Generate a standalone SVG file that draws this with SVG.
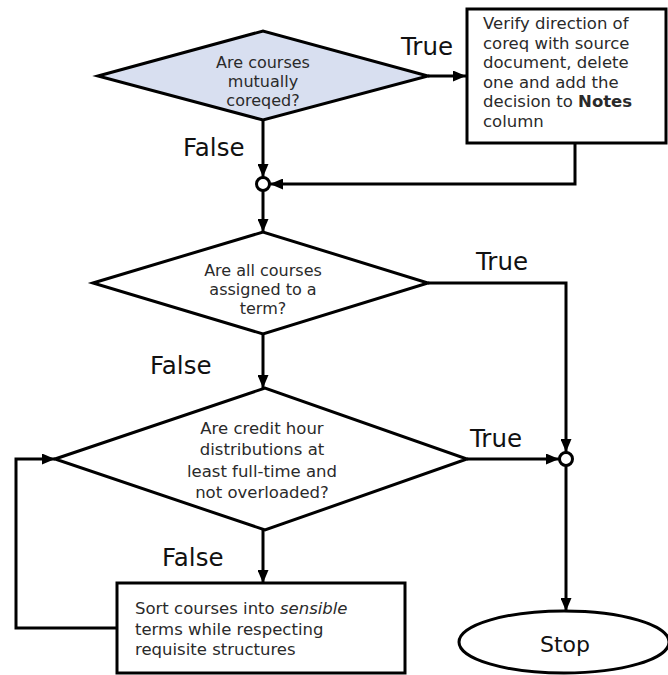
<svg xmlns="http://www.w3.org/2000/svg" width="668" height="675" viewBox="0 0 668 675">
<style>
  .shape { stroke: #000; stroke-width: 3; fill: #fff; stroke-linejoin: miter; }
  .blue { fill: #D8DFF0; }
  .conn { stroke: #000; stroke-width: 3; fill: none; }
  .txt { font-family: "DejaVu Sans", "Liberation Sans", sans-serif; font-size: 16.5px; fill: #2a2a2a; }
  .dtxt { font-size: 16px; }
  .mid { text-anchor: middle; }
  .lbl { font-family: "DejaVu Sans", "Liberation Sans", sans-serif; font-size: 24.5px; fill: #111; }
</style>
<defs>
  <marker id="arr" markerUnits="userSpaceOnUse" markerWidth="13" markerHeight="11" refX="13" refY="5.5" orient="auto">
    <path d="M0,0 L13,5.5 L0,11 z" fill="#000"/>
  </marker>
</defs>
<rect width="668" height="675" fill="#fff"/>

<g id="connectors">
  <line class="conn" x1="428" y1="76" x2="466" y2="76" marker-end="url(#arr)"/>
  <line class="conn" x1="263" y1="120" x2="263" y2="177" marker-end="url(#arr)"/>
  <polyline class="conn" points="575,143 575,184 270,184" marker-end="url(#arr)"/>
  <line class="conn" x1="263" y1="191" x2="263" y2="232" marker-end="url(#arr)"/>
  <polyline class="conn" points="428,283 566,283 566,452" marker-end="url(#arr)"/>
  <line class="conn" x1="263" y1="334" x2="263" y2="388" marker-end="url(#arr)"/>
  <line class="conn" x1="467" y1="459" x2="559" y2="459" marker-end="url(#arr)"/>
  <line class="conn" x1="263" y1="530" x2="263" y2="583" marker-end="url(#arr)"/>
  <polyline class="conn" points="117,628 16,628 16,459 55,459" marker-end="url(#arr)"/>
  <line class="conn" x1="566" y1="466" x2="566" y2="611" marker-end="url(#arr)"/>
  <text class="lbl" x="401" y="55">True</text>
  <text class="lbl" x="183" y="156">False</text>
  <text class="lbl" x="476" y="270">True</text>
  <text class="lbl" x="150" y="374">False</text>
  <text class="lbl" x="470" y="447">True</text>
  <text class="lbl" x="162" y="566">False</text>
</g>

<g id="decision1">
  <polygon class="shape blue" points="98,76 263,31 428,76 263,120"/>
  <text class="txt dtxt mid" x="263" y="68">Are courses</text>
  <text class="txt dtxt mid" x="263" y="87">mutually</text>
  <text class="txt dtxt mid" x="263" y="106">coreqed?</text>
</g>

<g id="verify">
  <rect class="shape" x="467" y="9" width="199" height="134"/>
  <text class="txt" x="483" y="29">Verify direction of</text>
  <text class="txt" x="483" y="48.6">coreq with source</text>
  <text class="txt" x="483" y="68.2">document, delete</text>
  <text class="txt" x="483" y="87.8">one and add the</text>
  <text class="txt" x="483" y="107.4">decision to <tspan font-weight="bold">Notes</tspan></text>
  <text class="txt" x="483" y="127">column</text>
</g>

<g id="merge1">
  <circle class="shape" cx="263" cy="184" r="6.5"/>
</g>

<g id="decision2">
  <polygon class="shape" points="93,283 263,232 428,283 263,334"/>
  <text class="txt dtxt mid" x="263" y="276">Are all courses</text>
  <text class="txt dtxt mid" x="263" y="295">assigned to a</text>
  <text class="txt dtxt mid" x="263" y="314">term?</text>
</g>

<g id="decision3">
  <polygon class="shape" points="55,459 265,388 467,459 265,530"/>
  <text class="txt mid" x="262" y="434">Are credit hour</text>
  <text class="txt mid" x="262" y="455">distributions at</text>
  <text class="txt mid" x="262" y="477">least full-time and</text>
  <text class="txt mid" x="262" y="498">not overloaded?</text>
</g>

<g id="merge2">
  <circle class="shape" cx="566" cy="459" r="6.5"/>
</g>

<g id="sort">
  <rect class="shape" x="117" y="583" width="288" height="90"/>
  <text class="txt" x="135" y="614">Sort courses into <tspan font-style="italic">sensible</tspan></text>
  <text class="txt" x="135" y="635">terms while respecting</text>
  <text class="txt" x="135" y="655">requisite structures</text>
</g>

<g id="stop">
  <ellipse class="shape" cx="564" cy="642" rx="105" ry="31"/>
  <text class="lbl mid" x="565" y="652" style="font-size:22px">Stop</text>
</g>
</svg>
